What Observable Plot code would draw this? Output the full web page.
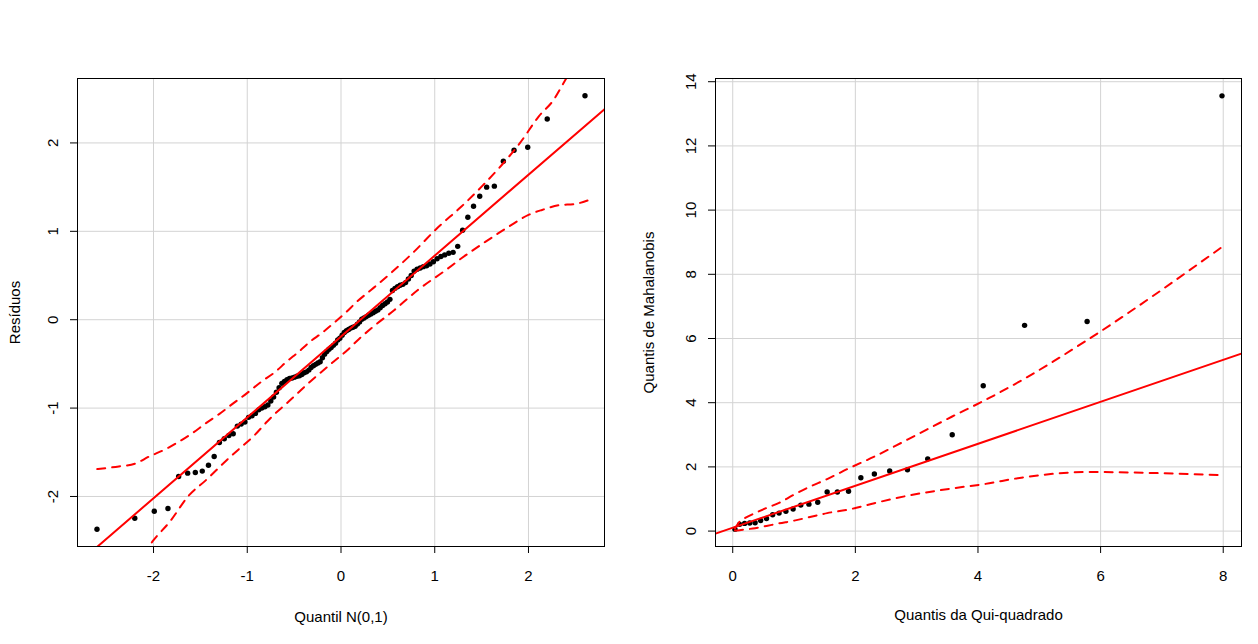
<!DOCTYPE html>
<html>
<head>
<meta charset="utf-8">
<script src="https://cdn.jsdelivr.net/npm/d3@7"></script>
<script src="https://cdn.jsdelivr.net/npm/@observablehq/plot@0.6"></script>
<style>
  html, body { margin: 0; padding: 0; background: #fff; }
  #wrap { display: flex; width: 1258px; height: 644px; overflow: hidden; }
  #wrap svg { display: block; }
</style>
</head>
<body>
<div id="wrap"></div>
<script>
// ---------- Left panel: normal QQ plot of residuals ----------
const normQuantiles = [
  -2.603, -2.200, -1.992, -1.846, -1.732, -1.636, -1.554, -1.480, -1.414, -1.353,
  -1.297, -1.245, -1.196, -1.150, -1.106, -1.065, -1.025, -0.986, -0.949, -0.913,
  -0.878, -0.845, -0.812, -0.780, -0.749, -0.719, -0.689, -0.660, -0.631, -0.603,
  -0.576, -0.549, -0.522, -0.496, -0.470, -0.444, -0.418, -0.393, -0.368, -0.343,
  -0.319, -0.294, -0.270, -0.246, -0.222, -0.198, -0.175, -0.151, -0.128, -0.105,
  -0.081, -0.058, -0.035, -0.012,
  0.012, 0.035, 0.058, 0.081, 0.105, 0.128, 0.151, 0.175, 0.198, 0.222,
  0.246, 0.270, 0.294, 0.319, 0.343, 0.368, 0.393, 0.418, 0.444, 0.470,
  0.496, 0.522, 0.549, 0.576, 0.603, 0.631, 0.660, 0.689, 0.719, 0.749,
  0.780, 0.812, 0.845, 0.878, 0.913, 0.949, 0.986, 1.025, 1.065, 1.106,
  1.150, 1.196, 1.245, 1.297, 1.353, 1.414, 1.480, 1.554, 1.636, 1.732,
  1.846, 1.992, 2.200, 2.603
];
const residuals = [
  -2.370, -2.246, -2.167, -2.136, -1.774, -1.736, -1.728, -1.713, -1.646, -1.547,
  -1.390, -1.347, -1.310, -1.290, -1.204, -1.181, -1.158, -1.105, -1.087, -1.060,
  -1.020, -1.000, -0.985, -0.965, -0.920, -0.875, -0.820, -0.770, -0.720, -0.700,
  -0.680, -0.665, -0.660, -0.650, -0.640, -0.635, -0.620, -0.600, -0.590, -0.570,
  -0.540, -0.520, -0.505, -0.490, -0.475, -0.430, -0.390, -0.360, -0.335, -0.315,
  -0.290, -0.265, -0.230, -0.210,
  -0.175, -0.145, -0.125, -0.110, -0.095, -0.085, -0.075, -0.050, -0.025, 0.005,
  0.020, 0.035, 0.050, 0.065, 0.080, 0.095, 0.110, 0.135, 0.160, 0.180,
  0.200, 0.230, 0.330, 0.355, 0.374, 0.390, 0.400, 0.420, 0.460, 0.500,
  0.550, 0.570, 0.585, 0.600, 0.610, 0.630, 0.655, 0.690, 0.715, 0.733,
  0.752, 0.762, 0.830, 1.012, 1.160, 1.284, 1.397, 1.500, 1.511, 1.794,
  1.918, 1.952, 2.270, 2.533
];
const normLine = { intercept: -0.19, slope: 0.915 };
const normUpperX = [-2.60, -2.37, -2.20, -2.05, -1.87, -1.73, -1.58, -1.44, -1.30, -1.15,
  -1.03, -0.85, -0.70, -0.58, -0.45, -0.33, -0.20, -0.08, 0.05, 0.17,
  0.32, 0.55, 0.78, 1.03, 1.285, 1.50, 1.715, 1.91, 2.11, 2.27, 2.37, 2.60];
const normUpperY = [-1.69, -1.66, -1.63, -1.55, -1.464, -1.38, -1.28, -1.17, -1.068, -0.947,
  -0.853, -0.702, -0.589, -0.475, -0.362, -0.249, -0.147, -0.041, 0.08, 0.204,
  0.336, 0.544, 0.77, 1.04, 1.28, 1.506, 1.75, 2.0, 2.3, 2.49, 2.67, 3.10];
const normLowerX = [-2.20, -2.00, -1.83, -1.62, -1.44, -1.22, -1.08, -0.94, -0.79, -0.72,
  -0.58, -0.33, -0.08, 0.07, 0.19, 0.32, 0.57, 0.82, 1.12, 1.285,
  1.535, 1.79, 2.00, 2.145, 2.325, 2.50, 2.63];
const normLowerY = [-2.80, -2.495, -2.29, -1.985, -1.815, -1.59, -1.456, -1.325, -1.155, -1.08,
  -0.947, -0.702, -0.475, -0.343, -0.22, -0.10, 0.11, 0.336, 0.563, 0.695,
  0.877, 1.053, 1.186, 1.242, 1.295, 1.31, 1.348];
const normXTicks = [-2, -1, 0, 1, 2];
const normYTicks = [-2, -1, 0, 1, 2];

// ---------- Right panel: chi-square QQ plot of Mahalanobis distances ----------
const chiQuantiles = [0.037, 0.114, 0.194, 0.278, 0.365, 0.456, 0.551, 0.651, 0.756, 0.867,
  0.985, 1.110, 1.243, 1.386, 1.540, 1.707, 1.889, 2.090, 2.310, 2.560,
  2.850, 3.180, 3.580, 4.086, 4.760, 5.780, 7.980];
const mahalanobis = [0.06, 0.21, 0.24, 0.25, 0.26, 0.33, 0.39, 0.51, 0.56, 0.615,
  0.69, 0.81, 0.84, 0.90, 1.22, 1.22, 1.24, 1.66, 1.78, 1.87,
  1.91, 2.25, 3.00, 4.53, 6.41, 6.53, 13.56];
const chiLine = { intercept: 0.104, slope: 0.654 };
const chiBandX = [0.037, 0.114, 0.194, 0.365, 0.551, 0.756, 0.985, 1.243, 1.54, 1.889,
  2.31, 2.85, 3.58, 4.086, 4.76, 5.78, 7.98];
const chiUpperY = [0.08, 0.30, 0.40, 0.56, 0.72, 0.88, 1.12, 1.37, 1.62, 1.95,
  2.32, 2.85, 3.57, 4.05, 4.75, 5.95, 8.85];
const chiLowerY = [0.02, 0.03, 0.05, 0.09, 0.16, 0.24, 0.32, 0.43, 0.56, 0.67,
  0.87, 1.10, 1.33, 1.46, 1.68, 1.84, 1.74];
const chiXTicks = [0, 2, 4, 6, 8];
const chiYTicks = [0, 2, 4, 6, 8, 10, 12, 14];

const FONT = "'Liberation Sans', Arial, Helvetica, sans-serif";
const FS = 15;

function zip(xs, ys) { return xs.map((x, i) => ({x, y: ys[i]})); }

function panel(o) {
  const [x0, x1] = o.xDomain;
  const lineData = [x0, x1].map(x => ({x, y: o.line.intercept + o.line.slope * x}));
  const dash = {stroke: "#ff0000", strokeWidth: 2, strokeDasharray: "8,7", clip: true, curve: "monotone-x"};
  return Plot.plot({
    width: o.width, height: 644,
    marginLeft: o.marginLeft, marginRight: o.marginRight, marginTop: 78, marginBottom: 98,
    x: {domain: o.xDomain},
    y: {domain: o.yDomain},
    style: {fontFamily: FONT, fontSize: FS + "px", color: "black", background: "white", overflow: "visible"},
    marks: [
      Plot.gridX(o.xTicks, {stroke: "#d3d3d3", strokeOpacity: 1, strokeWidth: 1}),
      Plot.gridY(o.yTicks, {stroke: "#d3d3d3", strokeOpacity: 1, strokeWidth: 1}),
      Plot.dot(o.points, {x: "x", y: "y", r: 2.7, fill: "black", stroke: "none"}),
      Plot.line(lineData, {x: "x", y: "y", stroke: "#ff0000", strokeWidth: 2, clip: true}),
      Plot.line(o.upper, {x: "x", y: "y", ...dash}),
      Plot.line(o.lower, {x: "x", y: "y", ...dash}),
      Plot.frame({stroke: "black", strokeWidth: 1}),
      Plot.axisX(o.xTicks, {
        tickSize: 7, tickPadding: 17, fontSize: FS, tickFormat: d => String(d),
        label: o.xLabel, labelAnchor: "center", labelOffset: o.xLabelOffset, labelArrow: "none"
      }),
      Plot.axisY(o.yTicks, {
        tickSize: 7, tickPadding: 13, tickRotate: -90, fontSize: FS, tickFormat: d => String(d),
        label: o.yLabel, labelAnchor: "center", labelOffset: o.yLabelOffset, labelArrow: "none"
      })
    ]
  });
}

const wrap = document.getElementById("wrap");
wrap.appendChild(panel({
  width: 629, marginLeft: 77, marginRight: 25,
  xDomain: [-2.811, 2.811], yDomain: [-2.566, 2.729],
  xTicks: normXTicks, yTicks: normYTicks,
  points: zip(normQuantiles, residuals),
  line: normLine,
  upper: zip(normUpperX, normUpperY),
  lower: zip(normLowerX, normLowerY),
  xLabel: "Quantil N(0,1)", yLabel: "Resíduos",
  xLabelOffset: 75, yLabelOffset: 68
}));
wrap.appendChild(panel({
  width: 629, marginLeft: 86, marginRight: 17,
  xDomain: [-0.281, 8.298], yDomain: [-0.48, 14.1],
  xTicks: chiXTicks, yTicks: chiYTicks,
  points: zip(chiQuantiles, mahalanobis),
  line: chiLine,
  upper: zip(chiBandX, chiUpperY),
  lower: zip(chiBandX, chiLowerY),
  xLabel: "Quantis da Qui-quadrado", yLabel: "Quantis de Mahalanobis",
  xLabelOffset: 73, yLabelOffset: 72
}));
</script>
</body>
</html>
